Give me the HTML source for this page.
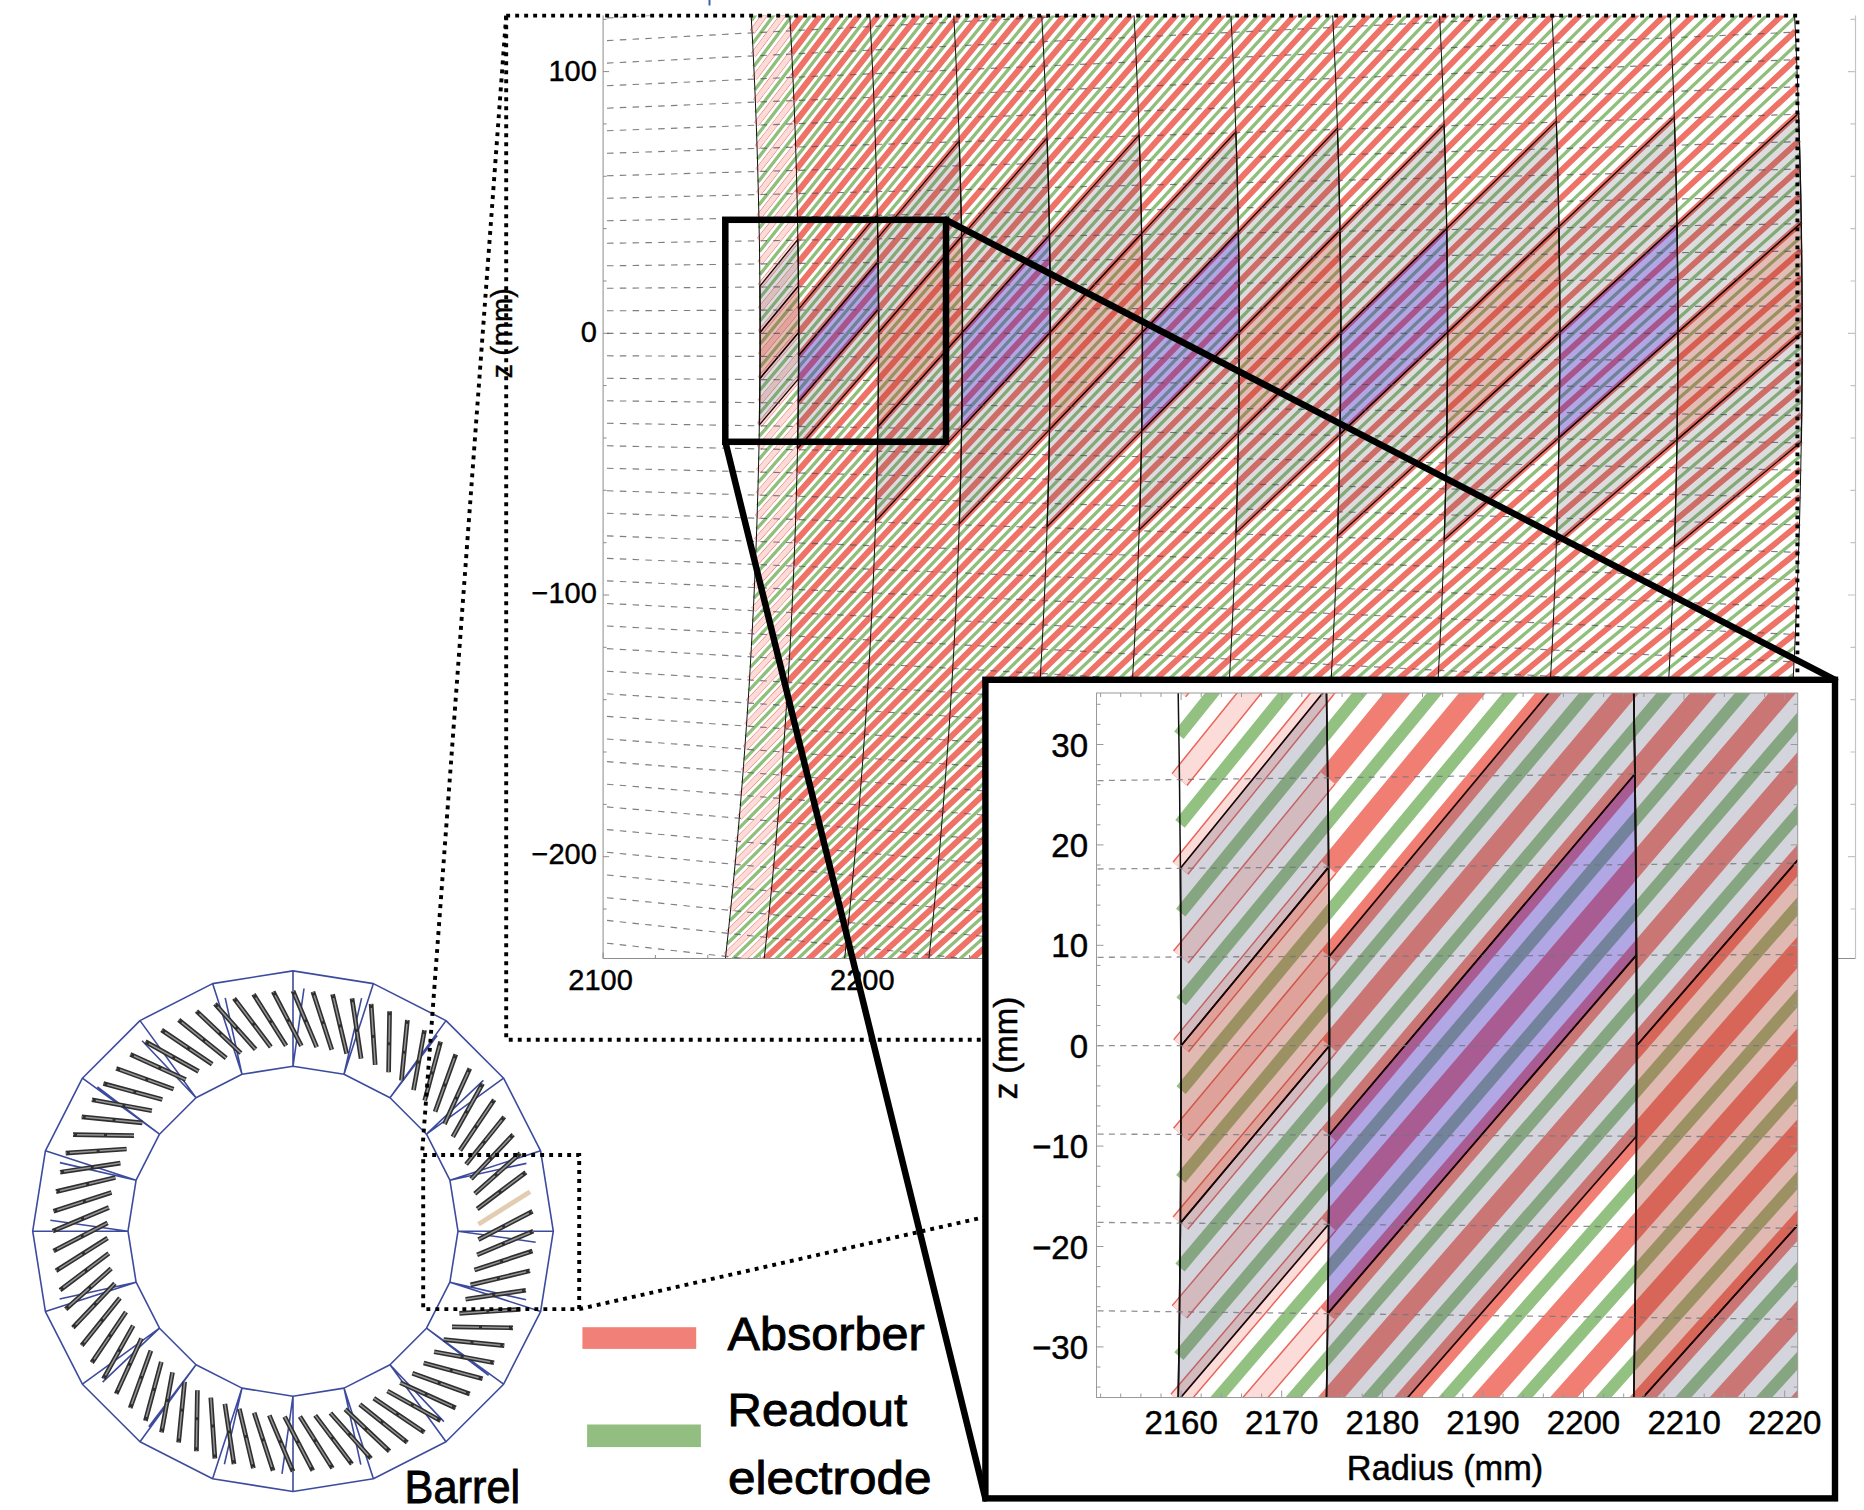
<!DOCTYPE html><html><head><meta charset="utf-8"><title>Calorimeter cells</title><style>html,body{margin:0;padding:0;background:#fff;overflow:hidden}svg{display:block}</style></head><body><svg width="1864" height="1510" viewBox="0 0 1864 1510" font-family="'Liberation Sans',Arial,Helvetica,sans-serif">
<rect width="1864" height="1510" fill="#fff"/>
<g fill="none" stroke="#3d4b9e" stroke-width="1.6" stroke-linejoin="round">
<path d="M553.3 1231.2 L540.6 1311.6 L503.6 1384.2 L446 1441.8 L373.4 1478.8 L293 1491.5 L212.6 1478.8 L140 1441.8 L82.4 1384.2 L45.4 1311.6 L32.7 1231.2 L45.4 1150.8 L82.4 1078.2 L140 1020.6 L212.6 983.6 L293 970.9 L373.4 983.6 L446 1020.6 L503.6 1078.2 L540.6 1150.8Z"/>
<path d="M458 1231.2 L449.9 1282.2 L426.5 1328.2 L390 1364.7 L344 1388.1 L293 1396.2 L242 1388.1 L196 1364.7 L159.5 1328.2 L136.1 1282.2 L128 1231.2 L136.1 1180.2 L159.5 1134.2 L196 1097.7 L242 1074.3 L293 1066.2 L344 1074.3 L390 1097.7 L426.5 1134.2 L449.9 1180.2Z"/>
<path d="M458 1231.2L553.3 1231.2M458 1231.2L535.7 1242.2M449.9 1282.2L540.6 1311.6M449.9 1282.2L526.1 1299.8M426.5 1328.2L503.6 1384.2M426.5 1328.2L488.6 1375.4M390 1364.7L446 1441.8M390 1364.7L443.9 1421.6M344 1388.1L373.4 1478.8M344 1388.1L360.8 1464.6M293 1396.2L293 1491.5M293 1396.2L282 1473.9M242 1388.1L212.6 1478.8M242 1388.1L224.4 1464.3M196 1364.7L140 1441.8M196 1364.7L148.8 1426.8M159.5 1328.2L82.4 1384.2M159.5 1328.2L102.6 1382.1M136.1 1282.2L45.4 1311.6M136.1 1282.2L59.6 1299M128 1231.2L32.7 1231.2M128 1231.2L50.3 1220.2M136.1 1180.2L45.4 1150.8M136.1 1180.2L59.9 1162.6M159.5 1134.2L82.4 1078.2M159.5 1134.2L97.4 1087M196 1097.7L140 1020.6M196 1097.7L142.1 1040.8M242 1074.3L212.6 983.6M242 1074.3L225.2 997.8M293 1066.2L293 970.9M293 1066.2L304 988.5M344 1074.3L373.4 983.6M344 1074.3L361.6 998.1M390 1097.7L446 1020.6M390 1097.7L437.2 1035.6M426.5 1134.2L503.6 1078.2M426.5 1134.2L483.4 1080.3M449.9 1180.2L540.6 1150.8M449.9 1180.2L526.4 1163.4"/>
</g>
<path d="M477.1 1254.9L533.3 1231.2M474.5 1270L532.5 1251.1M470.6 1284.9L530 1270.8M465.6 1299.3L525.9 1290.2M459.4 1313.4L520.3 1309.3M452 1326.8L513 1327.8M443.6 1339.6L504.3 1345.6M434.1 1351.7L494.1 1362.7M423.7 1362.9L482.6 1378.8M412.4 1373.3L469.8 1394M400.2 1382.7L455.7 1408M387.4 1391L440.6 1420.8M373.8 1398.2L424.4 1432.4M359.8 1404.3L407.3 1442.5M345.2 1409.3L389.5 1451.3M330.4 1413L371 1458.5M315.2 1415.4L351.9 1464.1M299.9 1416.6L332.5 1468.2M284.6 1416.6L312.8 1470.7M269.3 1415.3L293 1471.5M254.2 1412.7L273.1 1470.7M239.3 1408.8L253.4 1468.2M224.9 1403.8L234 1464.1M210.8 1397.6L214.9 1458.5M197.4 1390.2L196.4 1451.2M184.6 1381.8L178.6 1442.5M172.5 1372.3L161.5 1432.3M161.3 1361.9L145.4 1420.8M150.9 1350.6L130.2 1408M141.5 1338.4L116.2 1393.9M133.2 1325.6L103.4 1378.8M126 1312L91.8 1362.6M119.9 1298L81.7 1345.5M114.9 1283.4L72.9 1327.7M111.2 1268.6L65.7 1309.2M108.8 1253.4L60.1 1290.1M107.6 1238.1L56 1270.7M107.6 1222.8L53.5 1251M108.9 1207.5L52.7 1231.2M111.5 1192.4L53.5 1211.3M115.4 1177.5L56 1191.6M120.4 1163.1L60.1 1172.2M126.6 1149L65.7 1153.1M134 1135.6L73 1134.6M142.4 1122.8L81.7 1116.8M151.9 1110.7L91.9 1099.7M162.3 1099.5L103.4 1083.6M173.6 1089.1L116.2 1068.4M185.8 1079.7L130.3 1054.4M198.6 1071.4L145.4 1041.6M212.2 1064.2L161.6 1030M226.2 1058.1L178.7 1019.9M240.8 1053.1L196.5 1011.1M255.6 1049.4L215 1003.9M270.8 1047L234.1 998.3M286.1 1045.8L253.5 994.2M301.4 1045.8L273.2 991.7M316.7 1047.1L293 990.9M331.8 1049.7L312.9 991.7M346.7 1053.6L332.6 994.2M361.1 1058.6L352 998.3M375.2 1064.8L371.1 1003.9M388.6 1072.2L389.6 1011.2M401.4 1080.6L407.4 1019.9M413.5 1090.1L424.5 1030.1M424.7 1100.5L440.6 1041.6M435.1 1111.8L455.8 1054.4M444.5 1124L469.8 1068.5M452.8 1136.8L482.6 1083.6M460 1150.4L494.2 1099.8M466.1 1164.4L504.3 1116.9M471.1 1179L513.1 1134.7M474.8 1193.8L520.3 1153.2M477.2 1209L525.9 1172.3M478.4 1239.6L532.5 1211.4" stroke="#2f2f2f" stroke-width="4.7" stroke-linecap="butt" fill="none"/>
<path d="M477.1 1254.9L533.3 1231.2M474.5 1270L532.5 1251.1M470.6 1284.9L530 1270.8M465.6 1299.3L525.9 1290.2M459.4 1313.4L520.3 1309.3M452 1326.8L513 1327.8M443.6 1339.6L504.3 1345.6M434.1 1351.7L494.1 1362.7M423.7 1362.9L482.6 1378.8M412.4 1373.3L469.8 1394M400.2 1382.7L455.7 1408M387.4 1391L440.6 1420.8M373.8 1398.2L424.4 1432.4M359.8 1404.3L407.3 1442.5M345.2 1409.3L389.5 1451.3M330.4 1413L371 1458.5M315.2 1415.4L351.9 1464.1M299.9 1416.6L332.5 1468.2M284.6 1416.6L312.8 1470.7M269.3 1415.3L293 1471.5M254.2 1412.7L273.1 1470.7M239.3 1408.8L253.4 1468.2M224.9 1403.8L234 1464.1M210.8 1397.6L214.9 1458.5M197.4 1390.2L196.4 1451.2M184.6 1381.8L178.6 1442.5M172.5 1372.3L161.5 1432.3M161.3 1361.9L145.4 1420.8M150.9 1350.6L130.2 1408M141.5 1338.4L116.2 1393.9M133.2 1325.6L103.4 1378.8M126 1312L91.8 1362.6M119.9 1298L81.7 1345.5M114.9 1283.4L72.9 1327.7M111.2 1268.6L65.7 1309.2M108.8 1253.4L60.1 1290.1M107.6 1238.1L56 1270.7M107.6 1222.8L53.5 1251M108.9 1207.5L52.7 1231.2M111.5 1192.4L53.5 1211.3M115.4 1177.5L56 1191.6M120.4 1163.1L60.1 1172.2M126.6 1149L65.7 1153.1M134 1135.6L73 1134.6M142.4 1122.8L81.7 1116.8M151.9 1110.7L91.9 1099.7M162.3 1099.5L103.4 1083.6M173.6 1089.1L116.2 1068.4M185.8 1079.7L130.3 1054.4M198.6 1071.4L145.4 1041.6M212.2 1064.2L161.6 1030M226.2 1058.1L178.7 1019.9M240.8 1053.1L196.5 1011.1M255.6 1049.4L215 1003.9M270.8 1047L234.1 998.3M286.1 1045.8L253.5 994.2M301.4 1045.8L273.2 991.7M316.7 1047.1L293 990.9M331.8 1049.7L312.9 991.7M346.7 1053.6L332.6 994.2M361.1 1058.6L352 998.3M375.2 1064.8L371.1 1003.9M388.6 1072.2L389.6 1011.2M401.4 1080.6L407.4 1019.9M413.5 1090.1L424.5 1030.1M424.7 1100.5L440.6 1041.6M435.1 1111.8L455.8 1054.4M444.5 1124L469.8 1068.5M452.8 1136.8L482.6 1083.6M460 1150.4L494.2 1099.8M466.1 1164.4L504.3 1116.9M471.1 1179L513.1 1134.7M474.8 1193.8L520.3 1153.2M477.2 1209L525.9 1172.3M478.4 1239.6L532.5 1211.4" stroke="#959595" stroke-width="1.5" stroke-linecap="butt" stroke-dasharray="27 3" fill="none"/>
<path d="M478.4 1224.3L530 1191.7" stroke="#e3cdb2" stroke-width="4.8" stroke-linecap="butt" fill="none"/>
<path d="M603.1 15.5V958.5H1855.5" fill="none" stroke="#8c8c8c" stroke-width="1"/>
<path d="M1855.5 15.5V958.5" fill="none" stroke="#c4c4c4" stroke-width="1.2"/>
<path d="M603.1 909h3.5M603.1 856.7h6M603.1 804.4h3.5M603.1 752h3.5M603.1 699.7h3.5M603.1 647.3h3.5M603.1 595h6M603.1 542.7h3.5M603.1 490.3h3.5M603.1 438h3.5M603.1 385.6h3.5M603.1 333.3h6M603.1 281h3.5M603.1 228.6h3.5M603.1 176.3h3.5M603.1 123.9h3.5M603.1 71.6h6M603.1 19.3h3.5M603.1 958.5v-6M655.4 958.5v-3.5M707.8 958.5v-3.5M760.1 958.5v-3.5M812.5 958.5v-3.5M864.8 958.5v-6M917.1 958.5v-3.5M969.5 958.5v-3.5M1021.8 958.5v-3.5M1074.2 958.5v-3.5M1126.5 958.5v-6M1178.8 958.5v-3.5M1231.2 958.5v-3.5M1283.5 958.5v-3.5M1335.9 958.5v-3.5M1388.2 958.5v-6M1440.5 958.5v-3.5M1492.9 958.5v-3.5M1545.2 958.5v-3.5M1597.6 958.5v-3.5M1649.9 958.5v-6M1702.2 958.5v-3.5M1754.6 958.5v-3.5" stroke="#8c8c8c" stroke-width="1" fill="none"/>
<path d="M1855.5 909h-5M1855.5 856.7h-7.5M1855.5 804.4h-5M1855.5 752h-5M1855.5 699.7h-5M1855.5 647.3h-5M1855.5 595h-7.5M1855.5 542.7h-5M1855.5 490.3h-5M1855.5 438h-5M1855.5 385.6h-5M1855.5 333.3h-7.5M1855.5 281h-5M1855.5 228.6h-5M1855.5 176.3h-5M1855.5 123.9h-5M1855.5 71.6h-7.5M1855.5 19.3h-5" stroke="#c4c4c4" stroke-width="1.2" fill="none"/>
<clipPath id="cm"><rect x="600" y="15.6" width="1210" height="942.7"/></clipPath>
<g clip-path="url(#cm)">
<clipPath id="cmo"><path d="M1794 2 L1795.9 42.4 L1797.5 82.8 L1798.9 123.2 L1800 163.6 L1800.9 204 L1801.6 244.4 L1802 284.8 L1802.2 325.2 L1802.1 365.6 L1801.8 406 L1801.2 446.4 L1800.4 486.8 L1799.4 527.2 L1798.1 567.6 L1796.5 608 L1794.8 648.4 L1792.7 688.8 L1790.5 729.2 L1787.9 769.6 L1785.2 810 L1782.2 850.4 L1778.9 890.8 L1775.4 931.2 L1771.7 971.6 L716.1 971.6 L720.5 931.2 L724.7 890.8 L728.5 850.4 L732.1 810 L735.4 769.6 L738.4 729.2 L741.1 688.8 L743.5 648.4 L745.6 608 L747.4 567.6 L748.9 527.2 L750.2 486.8 L751.1 446.4 L751.8 406 L752.2 365.6 L752.3 325.2 L752.1 284.8 L751.6 244.4 L750.8 204 L749.7 163.6 L748.4 123.2 L746.7 82.8 L744.8 42.4 L742.5 2Z"/></clipPath>
<g clip-path="url(#cmo)">
<path d="M543.1 1884.6L592.8 1850.4M549.4 1862.3L598.9 1827.9M555.6 1840.1L605 1805.4M561.7 1817.8L611 1782.9M567.7 1795.4L616.9 1760.4M573.7 1773.1L622.7 1737.8M579.5 1750.7L628.4 1715.3M585.3 1728.3L634 1692.7M590.9 1705.9L639.5 1670.1M596.5 1683.5L644.9 1647.4M602 1661L650.2 1624.8M607.4 1638.5L655.5 1602.1M612.7 1616L660.6 1579.4M617.9 1593.5L665.7 1556.6M623 1570.9L670.6 1533.9M628 1548.4L675.5 1511.1M632.9 1525.8L680.3 1488.3M637.7 1503.1L684.9 1465.5M642.5 1480.5L689.5 1442.7M647.1 1457.9L694 1419.9M651.7 1435.2L698.4 1397M656.1 1412.5L702.7 1374.1M660.5 1389.8L706.9 1351.2M664.8 1367.1L711 1328.3M669 1344.3L715.1 1305.4M673.1 1321.6L719 1282.4M677.1 1298.8L722.8 1259.5M681 1276L726.6 1236.5M684.8 1253.2L730.2 1213.5M688.5 1230.4L733.8 1190.5M692.1 1207.5L737.2 1167.5M695.6 1184.7L740.6 1144.4M699.1 1161.8L743.9 1121.4M702.4 1138.9L747 1098.3M705.7 1116L750.1 1075.2M708.8 1093.1L753.1 1052.2M711.9 1070.2L756 1029.1M714.8 1047.3L758.8 1005.9M717.7 1024.3L761.5 982.8M720.5 1001.4L764.1 959.7M723.2 978.4L766.6 936.5M725.8 955.4L769.1 913.4M728.3 932.5L771.4 890.2M730.7 909.5L773.6 867.1M733 886.5L775.7 843.9M735.2 863.4L777.8 820.7M737.3 840.4L779.7 797.5M739.4 817.4L781.6 774.3M741.3 794.3L783.3 751.1M743.1 771.3L785 727.8M744.9 748.2L786.6 704.6M746.5 725.2L788 681.4M748.1 702.1L789.4 658.1M749.5 679L790.7 634.9M750.9 655.9L791.9 611.6M752.2 632.8L793 588.4M753.4 609.8L794 565.1M754.4 586.7L794.9 541.9M755.4 563.6L795.7 518.6M756.3 540.4L796.4 495.3M757.1 517.3L797 472M757.8 494.2L797.5 448.8M758.4 471.1L797.9 425.5M759 448L798.3 402.2M759.4 424.9L798.5 378.9M759.7 401.8L798.6 355.7M759.9 378.6L798.7 332.4M760.1 355.5L798.6 309.1M760.1 332.4L798.5 285.8M760.1 309.3L798.3 262.5M759.9 286.1L797.9 239.3M759.7 263L797.5 216M759.3 239.9L797 192.7M758.9 216.8L796.3 169.4M758.4 193.7L795.6 146.2M757.8 170.5L794.8 122.9M757.1 147.4L793.9 99.6M756.3 124.3L792.9 76.4M755.4 101.2L791.8 53.1M754.4 78.1L790.6 29.9M753.3 55L789.3 6.6M752.1 31.9L787.9 -16.6M750.8 8.8L786.4 -39.8M749.4 -14.2L784.9 -63.1M748 -37.3L783.2 -86.3M746.4 -60.4L781.4 -109.5" stroke="#e9655a" stroke-width="5.9" fill="none"/>
<path d="M543.1 1884.6L592.8 1850.4M549.4 1862.3L598.9 1827.9M555.6 1840.1L605 1805.4M561.7 1817.8L611 1782.9M567.7 1795.4L616.9 1760.4M573.7 1773.1L622.7 1737.8M579.5 1750.7L628.4 1715.3M585.3 1728.3L634 1692.7M590.9 1705.9L639.5 1670.1M596.5 1683.5L644.9 1647.4M602 1661L650.2 1624.8M607.4 1638.5L655.5 1602.1M612.7 1616L660.6 1579.4M617.9 1593.5L665.7 1556.6M623 1570.9L670.6 1533.9M628 1548.4L675.5 1511.1M632.9 1525.8L680.3 1488.3M637.7 1503.1L684.9 1465.5M642.5 1480.5L689.5 1442.7M647.1 1457.9L694 1419.9M651.7 1435.2L698.4 1397M656.1 1412.5L702.7 1374.1M660.5 1389.8L706.9 1351.2M664.8 1367.1L711 1328.3M669 1344.3L715.1 1305.4M673.1 1321.6L719 1282.4M677.1 1298.8L722.8 1259.5M681 1276L726.6 1236.5M684.8 1253.2L730.2 1213.5M688.5 1230.4L733.8 1190.5M692.1 1207.5L737.2 1167.5M695.6 1184.7L740.6 1144.4M699.1 1161.8L743.9 1121.4M702.4 1138.9L747 1098.3M705.7 1116L750.1 1075.2M708.8 1093.1L753.1 1052.2M711.9 1070.2L756 1029.1M714.8 1047.3L758.8 1005.9M717.7 1024.3L761.5 982.8M720.5 1001.4L764.1 959.7M723.2 978.4L766.6 936.5M725.8 955.4L769.1 913.4M728.3 932.5L771.4 890.2M730.7 909.5L773.6 867.1M733 886.5L775.7 843.9M735.2 863.4L777.8 820.7M737.3 840.4L779.7 797.5M739.4 817.4L781.6 774.3M741.3 794.3L783.3 751.1M743.1 771.3L785 727.8M744.9 748.2L786.6 704.6M746.5 725.2L788 681.4M748.1 702.1L789.4 658.1M749.5 679L790.7 634.9M750.9 655.9L791.9 611.6M752.2 632.8L793 588.4M753.4 609.8L794 565.1M754.4 586.7L794.9 541.9M755.4 563.6L795.7 518.6M756.3 540.4L796.4 495.3M757.1 517.3L797 472M757.8 494.2L797.5 448.8M758.4 471.1L797.9 425.5M759 448L798.3 402.2M759.4 424.9L798.5 378.9M759.7 401.8L798.6 355.7M759.9 378.6L798.7 332.4M760.1 355.5L798.6 309.1M760.1 332.4L798.5 285.8M760.1 309.3L798.3 262.5M759.9 286.1L797.9 239.3M759.7 263L797.5 216M759.3 239.9L797 192.7M758.9 216.8L796.3 169.4M758.4 193.7L795.6 146.2M757.8 170.5L794.8 122.9M757.1 147.4L793.9 99.6M756.3 124.3L792.9 76.4M755.4 101.2L791.8 53.1M754.4 78.1L790.6 29.9M753.3 55L789.3 6.6M752.1 31.9L787.9 -16.6M750.8 8.8L786.4 -39.8M749.4 -14.2L784.9 -63.1M748 -37.3L783.2 -86.3M746.4 -60.4L781.4 -109.5" stroke="#fcdcd8" stroke-width="5.1" fill="none"/>
<path d="M592.8 1850.4L1764.5 1042.9M598.9 1827.9L1767.3 1015.7M605 1805.4L1770 988.4M611 1782.9L1772.7 961.2M616.9 1760.4L1775.2 933.9M622.7 1737.8L1777.6 906.6M628.4 1715.3L1779.9 879.3M634 1692.7L1782.1 852M639.5 1670.1L1784.1 824.7M644.9 1647.4L1786.1 797.4M650.2 1624.8L1787.9 770.1M655.5 1602.1L1789.6 742.7M660.6 1579.4L1791.3 715.4M665.7 1556.6L1792.8 688.1M670.6 1533.9L1794.2 660.7M675.5 1511.1L1795.5 633.4M680.3 1488.3L1796.6 606M684.9 1465.5L1797.7 578.6M689.5 1442.7L1798.6 551.3M694 1419.9L1799.5 523.9M698.4 1397L1800.2 496.5M702.7 1374.1L1800.8 469.1M706.9 1351.2L1801.3 441.8M711 1328.3L1801.7 414.4M715.1 1305.4L1802 387M719 1282.4L1802.1 359.6M722.8 1259.5L1802.2 332.2M726.6 1236.5L1802.1 304.8M730.2 1213.5L1801.9 277.4M733.8 1190.5L1801.7 250.1M737.2 1167.5L1801.3 222.7M740.6 1144.4L1800.8 195.3M743.9 1121.4L1800.1 167.9M747 1098.3L1799.4 140.5M750.1 1075.2L1798.6 113.2M753.1 1052.2L1797.6 85.8M756 1029.1L1796.5 58.4M758.8 1005.9L1795.4 31.1M761.5 982.8L1794.1 3.7M764.1 959.7L1792.7 -23.6M766.6 936.5L1791.1 -51M769.1 913.4L1789.5 -78.3M771.4 890.2L1787.8 -105.6M773.6 867.1L1785.9 -133M775.7 843.9L1784 -160.3M777.8 820.7L1781.9 -187.6M779.7 797.5L1779.7 -214.9M781.6 774.3L1777.4 -242.2M783.3 751.1L1775 -269.5M785 727.8L1772.5 -296.7M786.6 704.6L1769.8 -324M788 681.4L1767.1 -351.2M789.4 658.1L1764.2 -378.5M790.7 634.9L1761.3 -405.7M791.9 611.6L1758.2 -432.9M793 588.4L1755 -460.1M794 565.1L1751.7 -487.3M794.9 541.9L1748.3 -514.5M795.7 518.6L1744.8 -541.6M796.4 495.3L1741.1 -568.8M797 472L1737.4 -595.9M797.5 448.8L1733.5 -623M797.9 425.5L1729.6 -650.1M798.3 402.2L1725.5 -677.2M798.5 378.9L1721.3 -704.2M798.6 355.7L1717 -731.3M798.7 332.4L1712.6 -758.3M798.6 309.1L1708.1 -785.3M798.5 285.8L1703.4 -812.3M798.3 262.5L1698.7 -839.3M797.9 239.3L1693.8 -866.2M797.5 216L1688.9 -893.2M797 192.7L1683.8 -920.1M796.3 169.4L1678.6 -947M795.6 146.2L1673.3 -973.9M794.8 122.9L1667.9 -1000.7M793.9 99.6L1662.4 -1027.5M792.9 76.4L1656.8 -1054.3M791.8 53.1L1651.1 -1081.1M790.6 29.9L1645.2 -1107.9M789.3 6.6L1639.3 -1134.6M787.9 -16.6L1633.2 -1161.3M786.4 -39.8L1627 -1188M784.9 -63.1L1620.8 -1214.6M783.2 -86.3L1614.4 -1241.3M781.4 -109.5L1607.9 -1267.9" stroke="#ee7266" stroke-width="5.9" fill="none"/>
<path d="M546.3 1873.5L1765.9 1029.3M552.5 1851.2L1768.7 1002M558.7 1828.9L1771.4 974.8M564.7 1806.6L1773.9 947.5M570.7 1784.3L1776.4 920.3M576.6 1761.9L1778.7 893M582.4 1739.5L1781 865.7M588.1 1717.1L1783.1 838.4M593.7 1694.7L1785.1 811.1M599.3 1672.2L1787 783.7M604.7 1649.8L1788.8 756.4M610 1627.3L1790.5 729.1M615.3 1604.7L1792 701.7M620.4 1582.2L1793.5 674.4M625.5 1559.6L1794.8 647M630.5 1537.1L1796.1 619.7M635.3 1514.5L1797.2 592.3M640.1 1491.8L1798.2 564.9M644.8 1469.2L1799.1 537.6M649.4 1446.5L1799.8 510.2M653.9 1423.9L1800.5 482.8M658.3 1401.2L1801.1 455.4M662.7 1378.4L1801.5 428.1M666.9 1355.7L1801.8 400.7M671 1333L1802.1 373.3M675.1 1310.2L1802.2 345.9M679 1287.4L1802.2 318.5M682.9 1264.6L1802 291.1M686.6 1241.8L1801.8 263.8M690.3 1219L1801.5 236.4M693.9 1196.1L1801 209M697.4 1173.3L1800.5 181.6M700.8 1150.4L1799.8 154.2M704.1 1127.5L1799 126.9M707.3 1104.6L1798.1 99.5M710.4 1081.7L1797.1 72.1M713.4 1058.8L1796 44.8M716.3 1035.8L1794.7 17.4M719.1 1012.9L1793.4 -10M721.9 989.9L1791.9 -37.3M724.5 966.9L1790.3 -64.6M727 944L1788.7 -92M729.5 921L1786.9 -119.3M731.8 898L1785 -146.6M734.1 874.9L1782.9 -173.9M736.3 851.9L1780.8 -201.2M738.4 828.9L1778.6 -228.5M740.3 805.9L1776.2 -255.8M742.2 782.8L1773.7 -283.1M744 759.8L1771.2 -310.4M745.7 736.7L1768.5 -337.6M747.3 713.6L1765.7 -364.9M748.8 690.6L1762.8 -392.1M750.2 667.5L1759.7 -419.3M751.6 644.4L1756.6 -446.5M752.8 621.3L1753.4 -473.7M753.9 598.2L1750 -500.9M754.9 575.1L1746.5 -528M755.9 552L1743 -555.2M756.7 528.9L1739.3 -582.3M757.5 505.8L1735.5 -609.4M758.1 482.7L1731.6 -636.6M758.7 459.6L1727.5 -663.6M759.2 436.4L1723.4 -690.7M759.6 413.3L1719.2 -717.8M759.8 390.2L1714.8 -744.8M760 367.1L1710.3 -771.8M760.1 343.9L1705.8 -798.8M760.1 320.8L1701.1 -825.8M760 297.7L1696.3 -852.8M759.8 274.6L1691.4 -879.7M759.5 251.5L1686.4 -906.6M759.1 228.3L1681.2 -933.5M758.7 205.2L1676 -960.4M758.1 182.1L1670.6 -987.3M757.4 159L1665.2 -1014.1M756.7 135.9L1659.6 -1040.9M755.8 112.8L1653.9 -1067.7M754.9 89.7L1648.2 -1094.5M753.8 66.6L1642.3 -1121.2M752.7 43.5L1636.3 -1147.9M751.5 20.4L1630.1 -1174.6M750.1 -2.7L1623.9 -1201.3M748.7 -25.8L1617.6 -1228M747.2 -48.9L1611.1 -1254.6M745.6 -71.9L1604.6 -1281.2" stroke="#90bf7c" stroke-width="3.3" fill="none"/>
</g>
<path d="M759.9 286.1 L797.9 239.3 L798 247 L798.2 254.8 L798.3 262.5 L798.3 270.3 L798.4 278.1 L798.5 285.8 L760.1 332.4 L760.1 324.7 L760.1 317 L760.1 309.3 L760 301.6 L760 293.8 L759.9 286.1Z" fill="rgba(90,90,105,0.21)" stroke="#1a0505" stroke-width="1.3" stroke-linejoin="round"/>
<path d="M760.1 332.4 L798.5 285.8 L798.6 293.6 L798.6 301.3 L798.6 309.1 L798.7 316.9 L798.7 324.6 L798.7 332.4 L759.9 378.6 L760 370.9 L760 363.2 L760.1 355.5 L760.1 347.8 L760.1 340.1 L760.1 332.4Z" fill="rgba(170,60,45,0.34)" stroke="#1a0505" stroke-width="1.3" stroke-linejoin="round"/>
<path d="M759.9 378.6 L798.7 332.4 L798.7 340.1 L798.7 347.9 L798.6 355.7 L798.6 363.4 L798.6 371.2 L798.5 378.9 L759.4 424.9 L759.5 417.2 L759.6 409.5 L759.7 401.8 L759.8 394 L759.9 386.3 L759.9 378.6Z" fill="rgba(90,90,105,0.21)" stroke="#1a0505" stroke-width="1.3" stroke-linejoin="round"/>
<path d="M798.6 309.1 L877.4 214.3 L877.5 222.2 L877.7 230.1 L877.8 237.9 L877.9 245.8 L878.1 253.7 L878.2 261.5 L798.6 355.7 L798.7 347.9 L798.7 340.1 L798.7 332.4 L798.7 324.6 L798.7 316.9 L798.6 309.1Z" fill="rgba(90,90,105,0.21)" stroke="#1a0505" stroke-width="1.3" stroke-linejoin="round"/>
<path d="M798.6 355.7 L878.2 261.5 L878.3 269.4 L878.3 277.3 L878.4 285.2 L878.5 293 L878.5 300.9 L878.6 308.8 L798.3 402.2 L798.4 394.5 L798.4 386.7 L798.5 378.9 L798.6 371.2 L798.6 363.4 L798.6 355.7Z" fill="rgba(70,45,190,0.42)" stroke="#1a0505" stroke-width="1.3" stroke-linejoin="round"/>
<path d="M798.3 402.2 L878.6 308.8 L878.6 316.6 L878.6 324.5 L878.6 332.4 L878.6 340.2 L878.6 348.1 L878.6 356 L797.5 448.8 L797.7 441 L797.8 433.3 L797.9 425.5 L798.1 417.7 L798.2 410 L798.3 402.2Z" fill="rgba(90,90,105,0.21)" stroke="#1a0505" stroke-width="1.3" stroke-linejoin="round"/>
<path d="M877.8 237.9 L959.2 140.8 L959.7 156.7 L960.2 172.7 L960.6 188.7 L961 204.6 L961.3 220.6 L961.6 236.6 L878.6 332.4 L878.6 316.6 L878.5 300.9 L878.4 285.2 L878.3 269.4 L878.1 253.7 L877.8 237.9Z" fill="rgba(90,90,105,0.21)" stroke="#1a0505" stroke-width="1.3" stroke-linejoin="round"/>
<path d="M878.6 332.4 L961.6 236.6 L961.8 252.5 L962 268.5 L962.2 284.5 L962.3 300.4 L962.4 316.4 L962.4 332.4 L877.9 426.8 L878.1 411.1 L878.3 395.3 L878.4 379.6 L878.5 363.8 L878.6 348.1 L878.6 332.4Z" fill="rgba(170,60,45,0.34)" stroke="#1a0505" stroke-width="1.3" stroke-linejoin="round"/>
<path d="M877.9 426.8 L962.4 332.4 L962.4 348.3 L962.3 364.3 L962.2 380.3 L962.1 396.2 L961.9 412.2 L961.6 428.1 L875.6 521.2 L876 505.5 L876.5 489.7 L876.9 474 L877.3 458.3 L877.6 442.5 L877.9 426.8Z" fill="rgba(90,90,105,0.21)" stroke="#1a0505" stroke-width="1.3" stroke-linejoin="round"/>
<path d="M961.6 236.6 L1047.1 137.9 L1047.6 154.1 L1048 170.3 L1048.5 186.5 L1048.8 202.7 L1049.2 218.9 L1049.5 235.1 L962.4 332.4 L962.4 316.4 L962.3 300.4 L962.2 284.5 L962 268.5 L961.8 252.5 L961.6 236.6Z" fill="rgba(90,90,105,0.21)" stroke="#1a0505" stroke-width="1.3" stroke-linejoin="round"/>
<path d="M962.4 332.4 L1049.5 235.1 L1049.7 251.3 L1049.9 267.5 L1050.1 283.7 L1050.2 299.9 L1050.2 316.1 L1050.3 332.3 L961.6 428.1 L961.9 412.2 L962.1 396.2 L962.2 380.3 L962.3 364.3 L962.4 348.3 L962.4 332.4Z" fill="rgba(70,45,190,0.42)" stroke="#1a0505" stroke-width="1.3" stroke-linejoin="round"/>
<path d="M961.6 428.1 L1050.3 332.3 L1050.2 348.5 L1050.2 364.7 L1050.1 381 L1049.9 397.2 L1049.7 413.4 L1049.5 429.6 L959.3 523.9 L959.8 508 L960.2 492 L960.7 476 L961 460.1 L961.3 444.1 L961.6 428.1Z" fill="rgba(90,90,105,0.21)" stroke="#1a0505" stroke-width="1.3" stroke-linejoin="round"/>
<path d="M1049.5 235.1 L1139.2 134.9 L1139.7 151.3 L1140.2 167.8 L1140.6 184.2 L1141 200.7 L1141.3 217.1 L1141.6 233.6 L1050.3 332.3 L1050.2 316.1 L1050.2 299.9 L1050.1 283.7 L1049.9 267.5 L1049.7 251.3 L1049.5 235.1Z" fill="rgba(90,90,105,0.21)" stroke="#1a0505" stroke-width="1.3" stroke-linejoin="round"/>
<path d="M1050.3 332.3 L1141.6 233.6 L1141.9 250 L1142.1 266.5 L1142.2 283 L1142.4 299.4 L1142.4 315.9 L1142.4 332.3 L1049.5 429.6 L1049.7 413.4 L1049.9 397.2 L1050.1 381 L1050.2 364.7 L1050.2 348.5 L1050.3 332.3Z" fill="rgba(170,60,45,0.34)" stroke="#1a0505" stroke-width="1.3" stroke-linejoin="round"/>
<path d="M1049.5 429.6 L1142.4 332.3 L1142.4 348.8 L1142.4 365.2 L1142.3 381.7 L1142.1 398.2 L1141.9 414.6 L1141.7 431.1 L1047.1 526.8 L1047.6 510.6 L1048.1 494.4 L1048.5 478.2 L1048.9 462 L1049.2 445.8 L1049.5 429.6Z" fill="rgba(90,90,105,0.21)" stroke="#1a0505" stroke-width="1.3" stroke-linejoin="round"/>
<path d="M1141.6 233.6 L1235.9 131.7 L1236.4 148.4 L1236.9 165.1 L1237.3 181.8 L1237.7 198.5 L1238.1 215.3 L1238.4 232 L1142.4 332.3 L1142.4 315.9 L1142.4 299.4 L1142.2 283 L1142.1 266.5 L1141.9 250 L1141.6 233.6Z" fill="rgba(90,90,105,0.21)" stroke="#1a0505" stroke-width="1.3" stroke-linejoin="round"/>
<path d="M1142.4 332.3 L1238.4 232 L1238.6 248.7 L1238.8 265.4 L1239 282.1 L1239.1 298.9 L1239.2 315.6 L1239.2 332.3 L1141.7 431.1 L1141.9 414.6 L1142.1 398.2 L1142.3 381.7 L1142.4 365.2 L1142.4 348.8 L1142.4 332.3Z" fill="rgba(70,45,190,0.42)" stroke="#1a0505" stroke-width="1.3" stroke-linejoin="round"/>
<path d="M1141.7 431.1 L1239.2 332.3 L1239.2 349 L1239.1 365.7 L1239 382.5 L1238.9 399.2 L1238.7 415.9 L1238.4 432.6 L1139.3 529.8 L1139.8 513.3 L1140.2 496.9 L1140.7 480.4 L1141 464 L1141.4 447.5 L1141.7 431.1Z" fill="rgba(90,90,105,0.21)" stroke="#1a0505" stroke-width="1.3" stroke-linejoin="round"/>
<path d="M1238.4 232 L1337.4 128.3 L1338 145.3 L1338.5 162.3 L1338.9 179.3 L1339.3 196.3 L1339.7 213.3 L1340 230.3 L1239.2 332.3 L1239.2 315.6 L1239.1 298.9 L1239 282.1 L1238.8 265.4 L1238.6 248.7 L1238.4 232Z" fill="rgba(90,90,105,0.21)" stroke="#1a0505" stroke-width="1.3" stroke-linejoin="round"/>
<path d="M1239.2 332.3 L1340 230.3 L1340.2 247.3 L1340.4 264.3 L1340.6 281.3 L1340.7 298.3 L1340.8 315.3 L1340.8 332.3 L1238.4 432.6 L1238.7 415.9 L1238.9 399.2 L1239 382.5 L1239.1 365.7 L1239.2 349 L1239.2 332.3Z" fill="rgba(170,60,45,0.34)" stroke="#1a0505" stroke-width="1.3" stroke-linejoin="round"/>
<path d="M1238.4 432.6 L1340.8 332.3 L1340.8 349.3 L1340.7 366.3 L1340.6 383.3 L1340.5 400.3 L1340.2 417.3 L1340 434.3 L1236 532.9 L1236.5 516.2 L1237 499.5 L1237.4 482.8 L1237.8 466.1 L1238.1 449.4 L1238.4 432.6Z" fill="rgba(90,90,105,0.21)" stroke="#1a0505" stroke-width="1.3" stroke-linejoin="round"/>
<path d="M1340 230.3 L1444.1 124.8 L1444.7 142.1 L1445.2 159.4 L1445.6 176.7 L1446 194 L1446.4 211.3 L1446.7 228.5 L1340.8 332.3 L1340.8 315.3 L1340.7 298.3 L1340.6 281.3 L1340.4 264.3 L1340.2 247.3 L1340 230.3Z" fill="rgba(90,90,105,0.21)" stroke="#1a0505" stroke-width="1.3" stroke-linejoin="round"/>
<path d="M1340.8 332.3 L1446.7 228.5 L1447 245.8 L1447.2 263.1 L1447.4 280.4 L1447.5 297.7 L1447.5 315 L1447.6 332.3 L1340 434.3 L1340.2 417.3 L1340.5 400.3 L1340.6 383.3 L1340.7 366.3 L1340.8 349.3 L1340.8 332.3Z" fill="rgba(70,45,190,0.42)" stroke="#1a0505" stroke-width="1.3" stroke-linejoin="round"/>
<path d="M1340 434.3 L1447.6 332.3 L1447.6 349.6 L1447.5 366.9 L1447.4 384.1 L1447.2 401.4 L1447 418.7 L1446.7 436 L1337.5 536.2 L1338 519.2 L1338.5 502.3 L1339 485.3 L1339.4 468.3 L1339.7 451.3 L1340 434.3Z" fill="rgba(90,90,105,0.21)" stroke="#1a0505" stroke-width="1.3" stroke-linejoin="round"/>
<path d="M1446.7 228.5 L1556.3 121.1 L1556.9 138.7 L1557.4 156.3 L1557.8 173.9 L1558.2 191.5 L1558.6 209.1 L1558.9 226.7 L1447.6 332.3 L1447.5 315 L1447.5 297.7 L1447.4 280.4 L1447.2 263.1 L1447 245.8 L1446.7 228.5Z" fill="rgba(90,90,105,0.21)" stroke="#1a0505" stroke-width="1.3" stroke-linejoin="round"/>
<path d="M1447.6 332.3 L1558.9 226.7 L1559.2 244.3 L1559.4 261.9 L1559.6 279.5 L1559.7 297.1 L1559.8 314.7 L1559.8 332.3 L1446.7 436 L1447 418.7 L1447.2 401.4 L1447.4 384.1 L1447.5 366.9 L1447.6 349.6 L1447.6 332.3Z" fill="rgba(170,60,45,0.34)" stroke="#1a0505" stroke-width="1.3" stroke-linejoin="round"/>
<path d="M1446.7 436 L1559.8 332.3 L1559.8 349.8 L1559.7 367.4 L1559.6 385 L1559.4 402.6 L1559.2 420.2 L1559 437.8 L1444.2 539.7 L1444.8 522.4 L1445.2 505.1 L1445.7 487.9 L1446.1 470.6 L1446.4 453.3 L1446.7 436Z" fill="rgba(90,90,105,0.21)" stroke="#1a0505" stroke-width="1.3" stroke-linejoin="round"/>
<path d="M1558.9 226.7 L1674.3 117.3 L1674.9 135.2 L1675.4 153.1 L1675.9 171 L1676.3 188.9 L1676.7 206.8 L1677 224.7 L1559.8 332.3 L1559.8 314.7 L1559.7 297.1 L1559.6 279.5 L1559.4 261.9 L1559.2 244.3 L1558.9 226.7Z" fill="rgba(90,90,105,0.21)" stroke="#1a0505" stroke-width="1.3" stroke-linejoin="round"/>
<path d="M1559.8 332.3 L1677 224.7 L1677.3 242.6 L1677.5 260.6 L1677.7 278.5 L1677.8 296.4 L1677.9 314.3 L1677.9 332.2 L1559 437.8 L1559.2 420.2 L1559.4 402.6 L1559.6 385 L1559.7 367.4 L1559.8 349.8 L1559.8 332.3Z" fill="rgba(70,45,190,0.42)" stroke="#1a0505" stroke-width="1.3" stroke-linejoin="round"/>
<path d="M1559 437.8 L1677.9 332.2 L1677.9 350.2 L1677.8 368.1 L1677.7 386 L1677.5 403.9 L1677.3 421.8 L1677 439.7 L1556.4 543.4 L1556.9 525.8 L1557.4 508.2 L1557.9 490.6 L1558.3 473 L1558.7 455.4 L1559 437.8Z" fill="rgba(90,90,105,0.21)" stroke="#1a0505" stroke-width="1.3" stroke-linejoin="round"/>
<path d="M1677 224.7 L1798.6 113.2 L1799.1 131.4 L1799.7 149.7 L1800.1 167.9 L1800.6 186.2 L1800.9 204.4 L1801.3 222.7 L1677.9 332.2 L1677.9 314.3 L1677.8 296.4 L1677.7 278.5 L1677.5 260.6 L1677.3 242.6 L1677 224.7Z" fill="rgba(90,90,105,0.21)" stroke="#1a0505" stroke-width="1.3" stroke-linejoin="round"/>
<path d="M1677.9 332.2 L1801.3 222.7 L1801.5 240.9 L1801.8 259.2 L1801.9 277.4 L1802.1 295.7 L1802.2 314 L1802.2 332.2 L1677 439.7 L1677.3 421.8 L1677.5 403.9 L1677.7 386 L1677.8 368.1 L1677.9 350.2 L1677.9 332.2Z" fill="rgba(170,60,45,0.34)" stroke="#1a0505" stroke-width="1.3" stroke-linejoin="round"/>
<path d="M1677 439.7 L1802.2 332.2 L1802.2 350.5 L1802.1 368.7 L1802 387 L1801.8 405.2 L1801.6 423.5 L1801.3 441.8 L1674.4 547.2 L1675 529.3 L1675.5 511.4 L1675.9 493.5 L1676.3 475.6 L1676.7 457.7 L1677 439.7Z" fill="rgba(90,90,105,0.21)" stroke="#1a0505" stroke-width="1.3" stroke-linejoin="round"/>
<path d="M750.7 7.2 L752.9 47.2 L754.8 87.1 L756.4 127.1 L757.7 167.1 L758.7 207 L759.5 247 L759.9 287 L760.1 326.9 L760 366.9 L759.6 406.9 L759 446.8 L758 486.8 L756.8 526.8 L755.3 566.7 L753.5 606.7 L751.4 646.6 L749.1 686.6 L746.4 726.6 L743.5 766.5 L740.3 806.5 L736.8 846.5 L733 886.4 L728.9 926.4 L724.6 966.4" fill="none" stroke="#111" stroke-width="1"/>
<path d="M789.3 7.2 L791.5 47.2 L793.4 87.1 L795 127.1 L796.3 167.1 L797.3 207 L798 247 L798.5 287 L798.7 326.9 L798.6 366.9 L798.2 406.9 L797.6 446.8 L796.6 486.8 L795.4 526.8 L793.9 566.7 L792.1 606.7 L790.1 646.6 L787.7 686.6 L785.1 726.6 L782.2 766.5 L779 806.5 L775.5 846.5 L771.8 886.4 L767.7 926.4 L763.4 966.4" fill="none" stroke="#111" stroke-width="1"/>
<path d="M869.4 7.2 L871.5 47.2 L873.4 87.1 L874.9 127.1 L876.2 167.1 L877.2 207 L878 247 L878.4 287 L878.6 326.9 L878.5 366.9 L878.1 406.9 L877.5 446.8 L876.6 486.8 L875.4 526.8 L873.9 566.7 L872.1 606.7 L870.1 646.6 L867.8 686.6 L865.2 726.6 L862.3 766.5 L859.2 806.5 L855.8 846.5 L852 886.4 L848.1 926.4 L843.8 966.4" fill="none" stroke="#111" stroke-width="1"/>
<path d="M953.3 7.2 L955.4 47.2 L957.2 87.1 L958.8 127.1 L960 167.1 L961 207 L961.8 247 L962.2 287 L962.4 326.9 L962.3 366.9 L961.9 406.9 L961.3 446.8 L960.4 486.8 L959.2 526.8 L957.7 566.7 L956 606.7 L954 646.6 L951.7 686.6 L949.2 726.6 L946.3 766.5 L943.2 806.5 L939.9 846.5 L936.2 886.4 L932.3 926.4 L928.1 966.4" fill="none" stroke="#111" stroke-width="1"/>
<path d="M1041.3 7.2 L1043.4 47.2 L1045.2 87.1 L1046.7 127.1 L1047.9 167.1 L1048.9 207 L1049.6 247 L1050.1 287 L1050.3 326.9 L1050.2 366.9 L1049.8 406.9 L1049.2 446.8 L1048.3 486.8 L1047.1 526.8 L1045.7 566.7 L1044 606.7 L1042 646.6 L1039.8 686.6 L1037.2 726.6 L1034.5 766.5 L1031.4 806.5 L1028.1 846.5 L1024.5 886.4 L1020.6 926.4 L1016.5 966.4" fill="none" stroke="#111" stroke-width="1"/>
<path d="M1133.6 7.2 L1135.7 47.2 L1137.4 87.1 L1138.9 127.1 L1140.2 167.1 L1141.1 207 L1141.8 247 L1142.3 287 L1142.4 326.9 L1142.4 366.9 L1142 406.9 L1141.4 446.8 L1140.5 486.8 L1139.3 526.8 L1137.9 566.7 L1136.3 606.7 L1134.3 646.6 L1132.1 686.6 L1129.6 726.6 L1126.9 766.5 L1123.9 806.5 L1120.6 846.5 L1117 886.4 L1113.2 926.4 L1109.2 966.4" fill="none" stroke="#111" stroke-width="1"/>
<path d="M1230.5 7.2 L1232.5 47.2 L1234.3 87.1 L1235.7 127.1 L1237 167.1 L1237.9 207 L1238.6 247 L1239 287 L1239.2 326.9 L1239.1 366.9 L1238.8 406.9 L1238.2 446.8 L1237.3 486.8 L1236.2 526.8 L1234.8 566.7 L1233.1 606.7 L1231.2 646.6 L1229 686.6 L1226.6 726.6 L1223.9 766.5 L1220.9 806.5 L1217.7 846.5 L1214.2 886.4 L1210.5 926.4 L1206.4 966.4" fill="none" stroke="#111" stroke-width="1"/>
<path d="M1332.3 7.2 L1334.2 47.2 L1336 87.1 L1337.4 127.1 L1338.6 167.1 L1339.5 207 L1340.2 247 L1340.6 287 L1340.8 326.9 L1340.7 366.9 L1340.4 406.9 L1339.8 446.8 L1338.9 486.8 L1337.8 526.8 L1336.4 566.7 L1334.8 606.7 L1332.9 646.6 L1330.8 686.6 L1328.4 726.6 L1325.7 766.5 L1322.8 806.5 L1319.7 846.5 L1316.2 886.4 L1312.5 926.4 L1308.6 966.4" fill="none" stroke="#111" stroke-width="1"/>
<path d="M1439.2 7.2 L1441.1 47.2 L1442.8 87.1 L1444.2 127.1 L1445.4 167.1 L1446.3 207 L1447 247 L1447.4 287 L1447.6 326.9 L1447.5 366.9 L1447.1 406.9 L1446.6 446.8 L1445.7 486.8 L1444.6 526.8 L1443.3 566.7 L1441.7 606.7 L1439.8 646.6 L1437.7 686.6 L1435.4 726.6 L1432.8 766.5 L1429.9 806.5 L1426.8 846.5 L1423.4 886.4 L1419.8 926.4 L1415.9 966.4" fill="none" stroke="#111" stroke-width="1"/>
<path d="M1551.6 7.2 L1553.5 47.2 L1555.1 87.1 L1556.5 127.1 L1557.7 167.1 L1558.6 207 L1559.2 247 L1559.6 287 L1559.8 326.9 L1559.7 366.9 L1559.4 406.9 L1558.8 446.8 L1558 486.8 L1556.9 526.8 L1555.6 566.7 L1554 606.7 L1552.2 646.6 L1550.1 686.6 L1547.8 726.6 L1545.2 766.5 L1542.4 806.5 L1539.4 846.5 L1536.1 886.4 L1532.5 926.4 L1528.7 966.4" fill="none" stroke="#111" stroke-width="1"/>
<path d="M1669.8 7.2 L1671.6 47.2 L1673.3 87.1 L1674.6 127.1 L1675.8 167.1 L1676.7 207 L1677.3 247 L1677.7 287 L1677.9 326.9 L1677.8 366.9 L1677.5 406.9 L1676.9 446.8 L1676.1 486.8 L1675 526.8 L1673.7 566.7 L1672.2 606.7 L1670.4 646.6 L1668.4 686.6 L1666.1 726.6 L1663.6 766.5 L1660.8 806.5 L1657.8 846.5 L1654.6 886.4 L1651.1 926.4 L1647.3 966.4" fill="none" stroke="#111" stroke-width="1"/>
<path d="M1794.2 7.2 L1796.1 47.2 L1797.7 87.1 L1799 127.1 L1800.1 167.1 L1801 207 L1801.6 247 L1802 287 L1802.2 326.9 L1802.1 366.9 L1801.8 406.9 L1801.2 446.8 L1800.4 486.8 L1799.4 526.8 L1798.1 566.7 L1796.6 606.7 L1794.8 646.6 L1792.8 686.6 L1790.6 726.6 L1788.1 766.5 L1785.4 806.5 L1782.5 846.5 L1779.3 886.4 L1775.9 926.4 L1772.2 966.4" fill="none" stroke="#111" stroke-width="1"/>
</g>
<clipPath id="cd"><rect x="600" y="15.6" width="1210" height="942.7"/></clipPath>
<path clip-path="url(#cd)" d="M607 1011.6L1752.9 1152.9M607 988.8L1756.2 1125.8M607 966L1759.4 1098.5M607 943.2L1762.5 1071.3M607 920.4L1765.4 1044.1M607 897.7L1768.3 1016.9M607 875L1771 989.6M607 852.3L1773.6 962.3M607 829.6L1776.2 935.1M607 806.9L1778.6 907.8M607 784.2L1780.9 880.5M607 761.6L1783 853.2M607 739L1785.1 825.9M607 716.4L1787.1 798.6M607 693.8L1788.9 771.2M607 671.2L1790.7 743.9M607 648.6L1792.3 716.6M607 626L1793.8 689.2M607 603.5L1795.2 661.9M607 580.9L1796.5 634.5M607 558.4L1797.7 607.1M607 535.9L1798.7 579.8M607 513.3L1799.7 552.4M607 490.8L1800.5 525M607 468.3L1801.2 497.6M607 445.8L1801.9 470.2M607 423.3L1802.4 442.9M607 400.8L1802.8 415.5M607 378.3L1803 388.1M607 355.8L1803.2 360.7M607 333.3L1803.3 333.3M607 310.8L1803.2 305.9M607 288.3L1803 278.5M607 265.8L1802.8 251.1M607 243.3L1802.4 223.7M607 220.8L1801.9 196.4M607 198.3L1801.2 169M607 175.8L1800.5 141.6M607 153.3L1799.7 114.2M607 130.7L1798.7 86.8M607 108.2L1797.7 59.5M607 85.7L1796.5 32.1M607 63.1L1795.2 4.7M607 40.6L1793.8 -22.6M607 18L1792.3 -50M607 -4.6L1790.7 -77.3" stroke="#4c4c55" stroke-opacity="0.72" stroke-width="1.15" stroke-dasharray="6.5 6.3" fill="none"/>
<g font-size="29" fill="#000" stroke="#000" stroke-width="0.4">
<text x="596.8" y="81.2" text-anchor="end">100</text>
<text x="596.8" y="342" text-anchor="end">0</text>
<text x="596.8" y="602.7" text-anchor="end">−100</text>
<text x="596.8" y="863.5" text-anchor="end">−200</text>
<text x="600.6" y="989.5" text-anchor="middle">2100</text>
<text x="862.3" y="989.5" text-anchor="middle">2200</text>
<text transform="translate(511.5 333.3) rotate(-90)" text-anchor="middle">z (mm)</text>
</g>
<path d="M709.5 0V5.5" stroke="#3f5fae" stroke-width="2"/>
<path d="M506.2 15.6H1797.4V1039.7H506.2Z" stroke="#000" stroke-width="3.9" stroke-dasharray="3.9 5.1" fill="none"/>
<path d="M506.2 15.6L422 1155M579.2 1309.1L1797.4 1032.5" stroke="#000" stroke-width="3.9" stroke-dasharray="3.9 5.1" fill="none"/>
<path d="M423.2 1155H579.2V1309.1H423.2Z" stroke="#000" stroke-width="3.9" stroke-dasharray="3.9 5.1" fill="none"/>
<g stroke="#000" stroke-width="6.5" fill="none" stroke-linejoin="miter" stroke-linecap="round">
<rect x="725.3" y="219.8" width="220.7" height="222"/>
<path d="M946 219.8L1835 679.8M725.3 441.8L985.4 1498.4"/>
</g>
<rect x="985.4" y="679.8" width="849.6" height="818.6" fill="#fff" stroke="#000" stroke-width="6.4"/>
<clipPath id="ci"><rect x="1096.5" y="693" width="701.2" height="704.5"/></clipPath>
<g clip-path="url(#ci)">
<clipPath id="cio"><path d="M2586 642.1 L2586.5 675.7 L2587 709.4 L2587.5 743 L2587.9 776.6 L2588.3 810.3 L2588.6 843.9 L2588.9 877.5 L2589.1 911.2 L2589.3 944.8 L2589.4 978.4 L2589.5 1012.1 L2589.5 1045.7 L2589.5 1079.3 L2589.4 1113 L2589.3 1146.6 L2589.1 1180.2 L2588.9 1213.9 L2588.6 1247.5 L2588.3 1281.1 L2587.9 1314.8 L2587.5 1348.4 L2587 1382 L2586.5 1415.7 L2586 1449.3 L1147.2 1449.3 L1147.8 1415.7 L1148.3 1382 L1148.8 1348.4 L1149.2 1314.8 L1149.6 1281.1 L1150 1247.5 L1150.3 1213.9 L1150.5 1180.2 L1150.7 1146.6 L1150.8 1113 L1150.9 1079.3 L1150.9 1045.7 L1150.9 1012.1 L1150.8 978.4 L1150.7 944.8 L1150.5 911.2 L1150.3 877.5 L1150 843.9 L1149.6 810.3 L1149.2 776.6 L1148.8 743 L1148.3 709.4 L1147.8 675.7 L1147.2 642.1Z"/></clipPath>
<g clip-path="url(#cio)">
<path d="M1067.6 3259.6L1232.6 3096.9M1076.5 3171.3L1240.8 3008M1085 3083L1248.7 2919M1093.2 2994.7L1256.2 2830M1101 2906.3L1263.3 2741M1108.4 2817.9L1270.1 2651.9M1115.5 2729.5L1276.5 2562.8M1122.2 2641.1L1282.5 2473.7M1128.6 2552.6L1288.2 2384.6M1134.6 2464.1L1293.5 2295.4M1140.2 2375.5L1298.4 2206.3M1145.5 2287L1303 2117.1M1150.4 2198.4L1307.2 2027.8M1154.9 2109.8L1311.1 1938.6M1159.1 2021.2L1314.6 1849.4M1162.9 1932.6L1317.7 1760.1M1166.4 1843.9L1320.4 1670.8M1169.5 1755.3L1322.8 1581.5M1172.2 1666.6L1324.8 1492.2M1174.6 1577.9L1326.4 1402.9M1176.6 1489.2L1327.7 1313.6M1178.2 1400.5L1328.6 1224.3M1179.5 1311.8L1329.2 1135M1180.4 1223.1L1329.4 1045.7M1180.9 1134.4L1329.2 956.4M1181.1 1045.7L1328.6 867.1M1180.9 957L1327.7 777.8M1180.4 868.3L1326.4 688.5M1179.5 779.6L1324.8 599.2M1178.2 690.9L1322.8 509.9M1176.6 602.2L1320.4 420.6M1174.6 513.5L1317.7 331.3M1172.2 424.8L1314.6 242" stroke="#e9655a" stroke-width="20.6" fill="none"/>
<path d="M1067.6 3259.6L1232.6 3096.9M1076.5 3171.3L1240.8 3008M1085 3083L1248.7 2919M1093.2 2994.7L1256.2 2830M1101 2906.3L1263.3 2741M1108.4 2817.9L1270.1 2651.9M1115.5 2729.5L1276.5 2562.8M1122.2 2641.1L1282.5 2473.7M1128.6 2552.6L1288.2 2384.6M1134.6 2464.1L1293.5 2295.4M1140.2 2375.5L1298.4 2206.3M1145.5 2287L1303 2117.1M1150.4 2198.4L1307.2 2027.8M1154.9 2109.8L1311.1 1938.6M1159.1 2021.2L1314.6 1849.4M1162.9 1932.6L1317.7 1760.1M1166.4 1843.9L1320.4 1670.8M1169.5 1755.3L1322.8 1581.5M1172.2 1666.6L1324.8 1492.2M1174.6 1577.9L1326.4 1402.9M1176.6 1489.2L1327.7 1313.6M1178.2 1400.5L1328.6 1224.3M1179.5 1311.8L1329.2 1135M1180.4 1223.1L1329.4 1045.7M1180.9 1134.4L1329.2 956.4M1181.1 1045.7L1328.6 867.1M1180.9 957L1327.7 777.8M1180.4 868.3L1326.4 688.5M1179.5 779.6L1324.8 599.2M1178.2 690.9L1322.8 509.9M1176.6 602.2L1320.4 420.6M1174.6 513.5L1317.7 331.3M1172.2 424.8L1314.6 242" stroke="#fcdcd8" stroke-width="17.6" fill="none"/>
<path d="M1232.6 3096.9L2578.1 1770.9M1240.8 3008L2580.9 1676.5M1248.7 2919L2583.3 1582M1256.2 2830L2585.3 1487.6M1263.3 2741L2586.9 1393.2M1270.1 2651.9L2588.1 1298.7M1276.5 2562.8L2589 1204.2M1282.5 2473.7L2589.4 1109.8M1288.2 2384.6L2589.5 1015.3M1293.5 2295.4L2589.2 920.9M1298.4 2206.3L2588.5 826.4M1303 2117.1L2587.4 731.9M1307.2 2027.8L2585.9 637.5M1311.1 1938.6L2584 543.1M1314.6 1849.4L2581.8 448.6M1317.7 1760.1L2579.1 354.2M1320.4 1670.8L2576.1 259.8M1322.8 1581.5L2572.7 165.4M1324.8 1492.2L2568.9 71M1326.4 1402.9L2564.7 -23.4M1327.7 1313.6L2560.1 -117.7M1328.6 1224.3L2555.2 -212M1329.2 1135L2549.8 -306.4M1329.4 1045.7L2544.1 -400.6M1329.2 956.4L2537.9 -494.9M1328.6 867.1L2531.4 -589.1M1327.7 777.8L2524.5 -683.3M1326.4 688.5L2517.3 -777.5M1324.8 599.2L2509.6 -871.7M1322.8 509.9L2501.5 -965.8M1320.4 420.6L2493.1 -1059.9M1317.7 331.3L2484.3 -1153.9M1314.6 242L2475.1 -1247.9" stroke="#f17e72" stroke-width="20.6" fill="none"/>
<path d="M1072.1 3215.5L2579.5 1723.7M1080.8 3127.2L2582.1 1629.3M1089.1 3038.9L2584.3 1534.8M1097.1 2950.5L2586.1 1440.4M1104.7 2862.1L2587.5 1345.9M1112 2773.7L2588.6 1251.5M1118.9 2685.3L2589.2 1157M1125.4 2596.8L2589.5 1062.6M1131.6 2508.3L2589.4 968.1M1137.4 2419.8L2588.9 873.6M1142.9 2331.3L2588 779.2M1148 2242.7L2586.7 684.7M1152.7 2154.1L2585 590.3M1157.1 2065.5L2582.9 495.8M1161.1 1976.9L2580.5 401.4M1164.7 1888.2L2577.7 307M1168 1799.6L2574.4 212.6M1170.9 1710.9L2570.8 118.2M1173.4 1622.3L2566.8 23.8M1175.6 1533.6L2562.5 -70.5M1177.4 1444.9L2557.7 -164.9M1178.9 1356.2L2552.5 -259.2M1180 1267.5L2547 -353.5M1180.7 1178.8L2541.1 -447.8M1181.1 1090.1L2534.7 -542M1181.1 1001.3L2528 -636.2M1180.7 912.6L2521 -730.4M1180 823.9L2513.5 -824.6M1178.9 735.2L2505.6 -918.7M1177.4 646.5L2497.4 -1012.8M1175.6 557.8L2488.7 -1106.9M1173.4 469.1L2479.7 -1200.9M1170.9 380.5L2470.3 -1294.9" stroke="#93c181" stroke-width="12.1" fill="none"/>
</g>
<path d="M1180.4 868.3 L1326.4 688.5 L1326.9 718.2 L1327.3 748 L1327.7 777.8 L1328.1 807.5 L1328.4 837.3 L1328.6 867.1 L1181.1 1045.7 L1181.1 1016.1 L1181 986.6 L1180.9 957 L1180.8 927.4 L1180.6 897.9 L1180.4 868.3Z" fill="rgba(95,95,125,0.27)" stroke="#1a0505" stroke-width="1.7" stroke-linejoin="round"/>
<path d="M1181.1 1045.7 L1328.6 867.1 L1328.9 896.8 L1329.1 926.6 L1329.2 956.4 L1329.3 986.2 L1329.4 1015.9 L1329.4 1045.7 L1180.4 1223.1 L1180.6 1193.5 L1180.8 1164 L1180.9 1134.4 L1181 1104.8 L1181.1 1075.3 L1181.1 1045.7Z" fill="rgba(170,60,45,0.36)" stroke="#1a0505" stroke-width="1.7" stroke-linejoin="round"/>
<path d="M1180.4 1223.1 L1329.4 1045.7 L1329.4 1075.5 L1329.3 1105.2 L1329.2 1135 L1329.1 1164.8 L1328.9 1194.6 L1328.6 1224.3 L1178.2 1400.5 L1178.7 1371 L1179.1 1341.4 L1179.5 1311.8 L1179.8 1282.3 L1180.1 1252.7 L1180.4 1223.1Z" fill="rgba(95,95,125,0.27)" stroke="#1a0505" stroke-width="1.7" stroke-linejoin="round"/>
<path d="M1329.2 956.4 L1632 592.9 L1632.5 623.1 L1633.1 653.3 L1633.6 683.4 L1634.1 713.6 L1634.5 743.8 L1634.9 774 L1329.2 1135 L1329.3 1105.2 L1329.4 1075.5 L1329.4 1045.7 L1329.4 1015.9 L1329.3 986.2 L1329.2 956.4Z" fill="rgba(95,95,125,0.27)" stroke="#1a0505" stroke-width="1.7" stroke-linejoin="round"/>
<path d="M1329.2 1135 L1634.9 774 L1635.3 804.2 L1635.6 834.4 L1635.8 864.6 L1636.1 894.8 L1636.3 924.9 L1636.4 955.1 L1327.7 1313.6 L1328.1 1283.9 L1328.4 1254.1 L1328.6 1224.3 L1328.9 1194.6 L1329.1 1164.8 L1329.2 1135Z" fill="rgba(70,45,190,0.42)" stroke="#1a0505" stroke-width="1.7" stroke-linejoin="round"/>
<path d="M1327.7 1313.6 L1636.4 955.1 L1636.5 985.3 L1636.6 1015.5 L1636.6 1045.7 L1636.6 1075.9 L1636.5 1106.1 L1636.4 1136.3 L1324.8 1492.2 L1325.4 1462.5 L1325.9 1432.7 L1326.4 1402.9 L1326.9 1373.2 L1327.3 1343.4 L1327.7 1313.6Z" fill="rgba(95,95,125,0.27)" stroke="#1a0505" stroke-width="1.7" stroke-linejoin="round"/>
<path d="M1633.6 683.4 L1946.6 310.8 L1948.5 372 L1950.3 433.2 L1951.9 494.5 L1953.3 555.7 L1954.6 616.9 L1955.7 678.2 L1636.6 1045.7 L1636.5 985.3 L1636.3 924.9 L1635.8 864.6 L1635.3 804.2 L1634.5 743.8 L1633.6 683.4Z" fill="rgba(95,95,125,0.27)" stroke="#1a0505" stroke-width="1.7" stroke-linejoin="round"/>
<path d="M1636.6 1045.7 L1955.7 678.2 L1956.6 739.4 L1957.3 800.7 L1957.9 861.9 L1958.3 923.2 L1958.6 984.4 L1958.7 1045.7 L1633.6 1408 L1634.5 1347.6 L1635.3 1287.2 L1635.8 1226.8 L1636.3 1166.5 L1636.5 1106.1 L1636.6 1045.7Z" fill="rgba(170,60,45,0.36)" stroke="#1a0505" stroke-width="1.7" stroke-linejoin="round"/>
<path d="M1633.6 1408 L1958.7 1045.7 L1958.6 1107 L1958.3 1168.2 L1957.9 1229.5 L1957.3 1290.7 L1956.6 1352 L1955.7 1413.2 L1624.7 1770.1 L1626.6 1709.8 L1628.3 1649.4 L1629.9 1589 L1631.3 1528.7 L1632.5 1468.3 L1633.6 1408Z" fill="rgba(95,95,125,0.27)" stroke="#1a0505" stroke-width="1.7" stroke-linejoin="round"/>
<path d="M1177.7 662.2 L1178.2 694.1 L1178.7 726.1 L1179.2 758.1 L1179.6 790 L1179.9 822 L1180.3 853.9 L1180.5 885.9 L1180.7 917.9 L1180.9 949.8 L1181 981.8 L1181.1 1013.7 L1181.1 1045.7 L1181.1 1077.7 L1181 1109.6 L1180.9 1141.6 L1180.7 1173.5 L1180.5 1205.5 L1180.3 1237.5 L1179.9 1269.4 L1179.6 1301.4 L1179.2 1333.3 L1178.7 1365.3 L1178.2 1397.3 L1177.7 1429.2" fill="none" stroke="#111" stroke-width="1.5"/>
<path d="M1326 662.2 L1326.5 694.1 L1327 726.1 L1327.5 758.1 L1327.9 790 L1328.2 822 L1328.5 853.9 L1328.8 885.9 L1329 917.9 L1329.2 949.8 L1329.3 981.8 L1329.4 1013.7 L1329.4 1045.7 L1329.4 1077.7 L1329.3 1109.6 L1329.2 1141.6 L1329 1173.5 L1328.8 1205.5 L1328.5 1237.5 L1328.2 1269.4 L1327.9 1301.4 L1327.5 1333.3 L1327 1365.3 L1326.5 1397.3 L1326 1429.2" fill="none" stroke="#111" stroke-width="1.5"/>
<path d="M1633.3 662.2 L1633.8 694.1 L1634.3 726.1 L1634.7 758.1 L1635.1 790 L1635.5 822 L1635.8 853.9 L1636 885.9 L1636.2 917.9 L1636.4 949.8 L1636.5 981.8 L1636.6 1013.7 L1636.6 1045.7 L1636.6 1077.7 L1636.5 1109.6 L1636.4 1141.6 L1636.2 1173.5 L1636 1205.5 L1635.8 1237.5 L1635.5 1269.4 L1635.1 1301.4 L1634.7 1333.3 L1634.3 1365.3 L1633.8 1397.3 L1633.3 1429.2" fill="none" stroke="#111" stroke-width="1.5"/>
<path d="M1955.4 662.2 L1955.9 694.1 L1956.4 726.1 L1956.8 758.1 L1957.2 790 L1957.6 822 L1957.8 853.9 L1958.1 885.9 L1958.3 917.9 L1958.5 949.8 L1958.6 981.8 L1958.6 1013.7 L1958.7 1045.7 L1958.6 1077.7 L1958.6 1109.6 L1958.5 1141.6 L1958.3 1173.5 L1958.1 1205.5 L1957.8 1237.5 L1957.6 1269.4 L1957.2 1301.4 L1956.8 1333.3 L1956.4 1365.3 L1955.9 1397.3 L1955.4 1429.2" fill="none" stroke="#111" stroke-width="1.5"/>
<path d="M2586.3 662.2 L2586.8 694.1 L2587.3 726.1 L2587.7 758.1 L2588.1 790 L2588.4 822 L2588.7 853.9 L2588.9 885.9 L2589.1 917.9 L2589.3 949.8 L2589.4 981.8 L2589.5 1013.7 L2589.5 1045.7 L2589.5 1077.7 L2589.4 1109.6 L2589.3 1141.6 L2589.1 1173.5 L2588.9 1205.5 L2588.7 1237.5 L2588.4 1269.4 L2588.1 1301.4 L2587.7 1333.3 L2587.3 1365.3 L2586.8 1397.3 L2586.3 1429.2" fill="none" stroke="#111" stroke-width="1.5"/>
</g>
<path clip-path="url(#ci)" d="M1097.6 1487.6L1797.8 1501.9M1097.6 1399.2L1797.8 1410.6M1097.6 1310.8L1797.8 1319.4M1097.6 1222.4L1797.8 1228.2M1097.6 1134.1L1797.8 1136.9M1097.6 1045.7L1797.8 1045.7M1097.6 957.3L1797.8 954.5M1097.6 869L1797.8 863.2M1097.6 780.6L1797.8 772M1097.6 692.2L1797.8 680.8M1097.6 603.8L1797.8 589.5" stroke="#74747e" stroke-opacity="0.8" stroke-width="1.3" stroke-dasharray="6 5.3" fill="none"/>
<rect x="1096.5" y="693" width="701.2" height="704.5" fill="none" stroke="#9a9a9a" stroke-width="1"/>
<path d="M1096.5 1387.1h4M1797.7 1387.1h-4M1096.5 1367h4M1797.7 1367h-4M1096.5 1346.9h7M1797.7 1346.9h-7M1096.5 1326.8h4M1797.7 1326.8h-4M1096.5 1306.7h4M1797.7 1306.7h-4M1096.5 1286.7h4M1797.7 1286.7h-4M1096.5 1266.6h4M1797.7 1266.6h-4M1096.5 1246.5h7M1797.7 1246.5h-7M1096.5 1226.4h4M1797.7 1226.4h-4M1096.5 1206.3h4M1797.7 1206.3h-4M1096.5 1186.3h4M1797.7 1186.3h-4M1096.5 1166.2h4M1797.7 1166.2h-4M1096.5 1146.1h7M1797.7 1146.1h-7M1096.5 1126h4M1797.7 1126h-4M1096.5 1105.9h4M1797.7 1105.9h-4M1096.5 1085.9h4M1797.7 1085.9h-4M1096.5 1065.8h4M1797.7 1065.8h-4M1096.5 1045.7h7M1797.7 1045.7h-7M1096.5 1025.6h4M1797.7 1025.6h-4M1096.5 1005.5h4M1797.7 1005.5h-4M1096.5 985.5h4M1797.7 985.5h-4M1096.5 965.4h4M1797.7 965.4h-4M1096.5 945.3h7M1797.7 945.3h-7M1096.5 925.2h4M1797.7 925.2h-4M1096.5 905.1h4M1797.7 905.1h-4M1096.5 885.1h4M1797.7 885.1h-4M1096.5 865h4M1797.7 865h-4M1096.5 844.9h7M1797.7 844.9h-7M1096.5 824.8h4M1797.7 824.8h-4M1096.5 804.7h4M1797.7 804.7h-4M1096.5 784.7h4M1797.7 784.7h-4M1096.5 764.6h4M1797.7 764.6h-4M1096.5 744.5h7M1797.7 744.5h-7M1096.5 724.4h4M1797.7 724.4h-4M1096.5 704.3h4M1797.7 704.3h-4M1100.6 1397.5v-4M1100.6 693v4M1120.7 1397.5v-4M1120.7 693v4M1140.9 1397.5v-4M1140.9 693v4M1161 1397.5v-4M1161 693v4M1181.1 1397.5v-7M1181.1 693v7M1201.2 1397.5v-4M1201.2 693v4M1221.3 1397.5v-4M1221.3 693v4M1241.5 1397.5v-4M1241.5 693v4M1261.6 1397.5v-4M1261.6 693v4M1281.7 1397.5v-7M1281.7 693v7M1301.8 1397.5v-4M1301.8 693v4M1321.9 1397.5v-4M1321.9 693v4M1342.1 1397.5v-4M1342.1 693v4M1362.2 1397.5v-4M1362.2 693v4M1382.3 1397.5v-7M1382.3 693v7M1402.4 1397.5v-4M1402.4 693v4M1422.5 1397.5v-4M1422.5 693v4M1442.7 1397.5v-4M1442.7 693v4M1462.8 1397.5v-4M1462.8 693v4M1482.9 1397.5v-7M1482.9 693v7M1503 1397.5v-4M1503 693v4M1523.1 1397.5v-4M1523.1 693v4M1543.3 1397.5v-4M1543.3 693v4M1563.4 1397.5v-4M1563.4 693v4M1583.5 1397.5v-7M1583.5 693v7M1603.6 1397.5v-4M1603.6 693v4M1623.7 1397.5v-4M1623.7 693v4M1643.9 1397.5v-4M1643.9 693v4M1664 1397.5v-4M1664 693v4M1684.1 1397.5v-7M1684.1 693v7M1704.2 1397.5v-4M1704.2 693v4M1724.3 1397.5v-4M1724.3 693v4M1744.5 1397.5v-4M1744.5 693v4M1764.6 1397.5v-4M1764.6 693v4M1784.7 1397.5v-7M1784.7 693v7" stroke="#9a9a9a" stroke-width="1" fill="none"/>
<g font-size="33" fill="#000" stroke="#000" stroke-width="0.5">
<text x="1088" y="756.5" text-anchor="end">30</text>
<text x="1088" y="856.9" text-anchor="end">20</text>
<text x="1088" y="957.3" text-anchor="end">10</text>
<text x="1088" y="1057.7" text-anchor="end">0</text>
<text x="1088" y="1158.1" text-anchor="end">−10</text>
<text x="1088" y="1258.5" text-anchor="end">−20</text>
<text x="1088" y="1358.9" text-anchor="end">−30</text>
<text x="1181.1" y="1434" text-anchor="middle">2160</text>
<text x="1281.7" y="1434" text-anchor="middle">2170</text>
<text x="1382.3" y="1434" text-anchor="middle">2180</text>
<text x="1482.9" y="1434" text-anchor="middle">2190</text>
<text x="1583.5" y="1434" text-anchor="middle">2200</text>
<text x="1684.1" y="1434" text-anchor="middle">2210</text>
<text x="1784.7" y="1434" text-anchor="middle">2220</text>
<text x="1445" y="1479.6" text-anchor="middle" font-size="34.3">Radius (mm)</text>
<text transform="translate(1017 1048) rotate(-90)" text-anchor="middle">z (mm)</text>
</g>
<rect x="582.4" y="1327.2" width="113.8" height="21.7" fill="#f08078"/>
<rect x="587.1" y="1424.5" width="113.8" height="22.6" fill="#93be82"/>
<g font-size="46" fill="#000" stroke="#000" stroke-width="0.9">
<text x="727.6" y="1349.6" textLength="197" lengthAdjust="spacingAndGlyphs">Absorber</text>
<text x="727.6" y="1426.4" textLength="179.5" lengthAdjust="spacingAndGlyphs">Readout</text>
<text x="728" y="1493.6" textLength="203.5" lengthAdjust="spacingAndGlyphs">electrode</text>
<text x="404.6" y="1502.9" textLength="115.5" lengthAdjust="spacingAndGlyphs">Barrel</text>
</g>
</svg></body></html>
